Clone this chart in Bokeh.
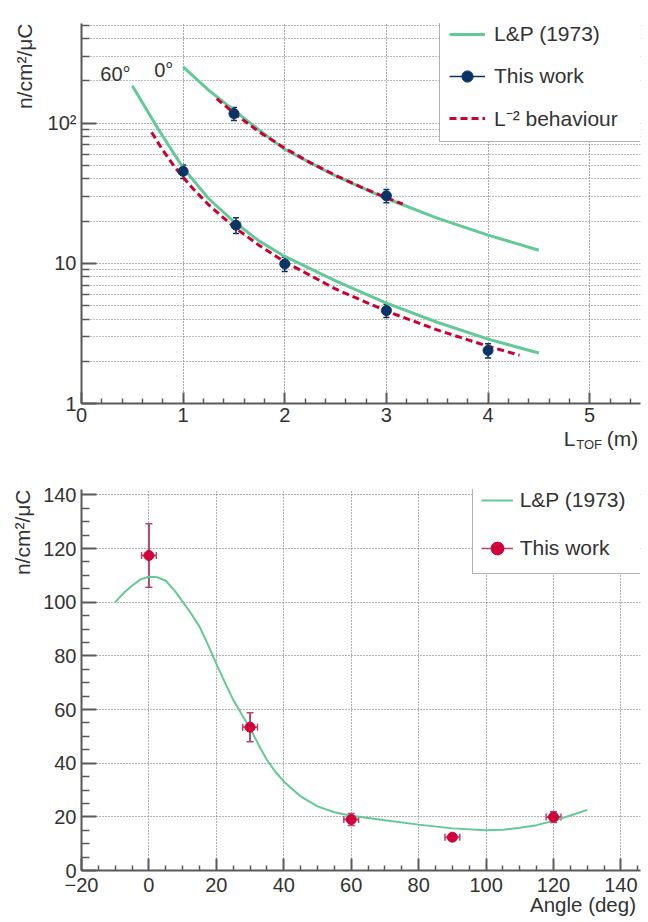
from bokeh.embed import file_html
from bokeh.layouts import column
from bokeh.models import (ColumnDataSource, FixedTicker, Label, Legend, LegendItem,
                          LinearAxis, Range1d, TeeHead, Title, Whisker)
from bokeh.plotting import figure
from bokeh.resources import INLINE

# ---------------- fluence vs. flight path (upper panel) ----------------
L_0deg = [1.5, 3.0]
flux_0deg = [117.0, 30.3]
flux_err_0deg = [12.5, 3.3]

L_60deg = [1.0, 1.52, 2.0, 3.0, 4.0]
flux_60deg = [45.3, 18.7, 9.9, 4.6, 2.39]
flux_err_60deg = [5.0, 2.4, 1.15, 0.5, 0.28]

lp_L_0deg = [1.0, 1.25, 1.5, 1.75, 2.0, 2.5, 3.0, 3.5, 4.0, 4.5]
lp_flux_0deg = [252, 172, 124, 89, 65, 42, 29, 21, 15.9, 12.4]

lp_L_60deg = [0.5, 0.75, 1.0, 1.25, 1.5, 1.75, 2.0, 2.5, 3.0, 3.5, 4.0, 4.5]
lp_flux_60deg = [185, 92, 48, 29, 19.8, 14.4, 11.2, 7.5, 5.2, 3.8, 2.88, 2.29]

sq_L_0deg = [1.33, 1.5, 1.75, 2.0, 2.25, 2.5, 2.75, 3.0, 3.16]
sq_flux_0deg = [149.8, 117.8, 86.5, 66.3, 52.3, 42.4, 35.0, 29.4, 26.5]

sq_L_60deg = [0.69, 0.8, 0.9, 1.0, 1.1, 1.25, 1.5, 1.75, 2.0, 2.5, 3.0, 3.5, 4.0, 4.31]
sq_flux_60deg = [86.1, 64.1, 50.6, 41.0, 33.9, 26.2, 18.2, 13.4, 10.25, 6.56, 4.56, 3.35, 2.56, 2.21]

L_ticks = [0, 1, 2, 3, 4, 5]
flux_ticks = [1, 10, 100]
flux_tick_labels = ["1", "10", "10\u00b2"]

# ---------------- angular distribution (lower panel) ----------------
angle = [0, 30, 60, 90, 120]
angle_err = [2.2, 2.2, 2.2, 2.2, 2.2]
flux_angle = [117.4, 53.4, 19.0, 12.4, 19.9]
flux_angle_err = [11.8, 5.4, 2.2, 1.0, 2.0]

lp_angle = [-10, -7.5, -5, -2.5, 0, 2.5, 5, 7.5, 10, 12.5, 15, 17.5, 20, 22.5, 25,
            27.5, 30, 32.5, 35, 37.5, 40, 45, 50, 55, 60, 70, 80, 90, 100, 105,
            110, 115, 120, 125, 130]
lp_flux_angle = [100.0, 103.4, 106.1, 108.5, 109.5, 109.3, 108.0, 104.5, 100.2, 95.8,
                 90.9, 84.2, 77.0, 70.2, 63.6, 58.2, 53.0, 46.9, 41.2, 36.8, 33.2,
                 27.6, 23.9, 21.7, 20.4, 18.7, 17.1, 15.7, 15.0, 15.2, 15.9, 16.9,
                 18.5, 20.5, 22.6]

angle_ticks = [-20, 0, 20, 40, 60, 80, 100, 120, 140]
angle_tick_labels = ["\u221220", "0", "20", "40", "60", "80", "100", "120", "140"]
flux_lin_ticks = [0, 20, 40, 60, 80, 100, 120, 140]

# ---------------- styling ----------------
FONT = "Liberation Sans"
TEXT = "#333333"
AXIS = "#5a5a5a"
GREEN = "#62C997"
RED_DASH = "#CC0033"
BLUE = "#0A3466"
RED_PT = "#D2003A"
RED_BAR = "#B4466E"


def style_axes(p, x_major_in, x_minor_in, y_major_in, y_minor_in, x_standoff):
    for ax in (p.xaxis[0], p.yaxis[0]):
        ax.axis_line_color = AXIS
        ax.axis_line_width = 2
        ax.major_tick_line_color = AXIS
        ax.minor_tick_line_color = AXIS
        ax.major_tick_line_width = 2
        ax.minor_tick_line_width = 1.5
        ax.major_tick_out = 0
        ax.minor_tick_out = 0
        ax.major_label_text_font = FONT
        ax.major_label_text_font_size = "20px"
        ax.major_label_text_color = TEXT
    p.xaxis[0].major_tick_in = x_major_in
    p.xaxis[0].minor_tick_in = x_minor_in
    p.yaxis[0].major_tick_in = y_major_in
    p.yaxis[0].minor_tick_in = y_minor_in
    p.xaxis[0].major_label_standoff = x_standoff
    p.yaxis[0].major_label_standoff = 5
    p.outline_line_color = None


def y_title(p, text, standoff):
    p.add_layout(Title(text=text, align="right", text_font=FONT, text_font_size="21px",
                       text_font_style="normal", text_color=TEXT, standoff=standoff), "left")


def title_axis(p, positions, texts, size, standoff):
    """A bare extra axis below the plot whose only job is to carry the x-axis title
    pieces as tick labels at the given x positions."""
    ax = LinearAxis(ticker=FixedTicker(ticks=positions, minor_ticks=[]),
                    major_label_overrides=dict(zip(positions, texts)),
                    major_label_text_font=FONT, major_label_text_font_size=size,
                    major_label_text_color=TEXT, major_label_standoff=standoff,
                    axis_line_color=None, major_tick_line_color=None,
                    minor_tick_line_color=None)
    p.add_layout(ax, "below")


def style_legend(leg, pad, spacing, glyph_w, item_h, label_w, standoff):
    leg.label_text_font = FONT
    leg.label_text_font_size = "21px"
    leg.label_text_color = TEXT
    leg.border_line_color = "#666666"
    leg.border_line_width = 1.5
    leg.background_fill_color = "white"
    leg.background_fill_alpha = 1.0
    leg.padding = pad
    leg.spacing = spacing
    leg.glyph_width = glyph_w
    leg.glyph_height = item_h
    leg.label_height = item_h
    leg.label_width = label_w
    leg.label_standoff = standoff
    leg.margin = 0


# ================= upper panel =================
p1 = figure(frame_width=559, frame_height=380,
            x_range=Range1d(0, 5.5), y_range=Range1d(1, 514), y_axis_type="log",
            min_border_left=81, min_border_right=8, min_border_top=23, min_border_bottom=57,
            output_backend="svg", toolbar_location=None)
style_axes(p1, 11, 5, 15, 8, 4)

x_ticker = FixedTicker(ticks=L_ticks,
                       minor_ticks=[round(0.2 * i, 1) for i in range(1, 28) if i % 5])
y_ticker = FixedTicker(ticks=flux_ticks,
                       minor_ticks=[m * 10 ** e for e in range(3) for m in range(2, 10)
                                    if m * 10 ** e <= 514])
p1.xaxis[0].ticker = x_ticker
p1.yaxis[0].ticker = y_ticker
p1.xgrid[0].ticker = x_ticker
p1.ygrid[0].ticker = y_ticker
p1.yaxis[0].major_label_overrides = dict(zip(flux_ticks, flux_tick_labels))

p1.xgrid.grid_line_color = "#555555"
p1.xgrid.grid_line_dash = "1 2"
p1.ygrid.grid_line_color = "#666666"
p1.ygrid.grid_line_dash = "1 2"
p1.ygrid.minor_grid_line_color = "#777777"
p1.ygrid.minor_grid_line_dash = "1 2"

r_lp0 = p1.line(lp_L_0deg, lp_flux_0deg, line_color=GREEN, line_width=3)
p1.line(lp_L_60deg, lp_flux_60deg, line_color=GREEN, line_width=3)
r_sq0 = p1.line(sq_L_0deg, sq_flux_0deg, line_color=RED_DASH, line_width=3, line_dash="7 4")
p1.line(sq_L_60deg, sq_flux_60deg, line_color=RED_DASH, line_width=3, line_dash="7 4")

for xs, ys, es in ((L_0deg, flux_0deg, flux_err_0deg), (L_60deg, flux_60deg, flux_err_60deg)):
    src = ColumnDataSource(dict(x=xs, lo=[y - e for y, e in zip(ys, es)],
                                hi=[y + e for y, e in zip(ys, es)]))
    p1.add_layout(Whisker(source=src, base="x", upper="hi", lower="lo", dimension="height",
                          line_color=BLUE, line_width=1.5,
                          upper_head=TeeHead(size=6, line_color=BLUE, line_width=1.5),
                          lower_head=TeeHead(size=6, line_color=BLUE, line_width=1.5)))

r_pts0 = p1.scatter(L_0deg, flux_0deg, size=10, color=BLUE)
p1.scatter(L_60deg, flux_60deg, size=10, color=BLUE)
# zero-length segments on the data points: only their legend key (a line) shows
r_key1 = p1.segment(x0=L_0deg, y0=flux_0deg, x1=L_0deg, y1=flux_0deg,
                    line_color=BLUE, line_width=1.5)

leg1 = Legend(items=[LegendItem(label="L&P (1973)", renderers=[r_lp0]),
                     LegendItem(label="This work", renderers=[r_key1, r_pts0]),
                     LegendItem(label="L\u207b\u00b2 behaviour", renderers=[r_sq0])],
              location=(358, 261))
style_legend(leg1, pad=9, spacing=14, glyph_w=36, item_h=28, label_w=137, standoff=9)
p1.add_layout(leg1)

p1.add_layout(Label(x=0.185, y=225, text="60\u00b0", text_font=FONT, text_font_size="20px",
                    text_color=TEXT, text_baseline="alphabetic"))
p1.add_layout(Label(x=0.715, y=240, text="0\u00b0", text_font=FONT, text_font_size="20px",
                    text_color=TEXT, text_baseline="alphabetic"))

y_title(p1, "n/cm\u00b2/\u03bcC", 17)
# x title "L_TOF (m)": subscript row first, then the full-size pieces pulled up beside it
title_axis(p1, [4.995], ["TOF"], "13px", 6)
title_axis(p1, [4.803, 5.322], ["L", "(m)"], "21px", -34)

# ================= lower panel =================
p2 = figure(frame_width=559, frame_height=381,
            x_range=Range1d(-20, 145.8), y_range=Range1d(0, 142),
            min_border_left=81, min_border_right=8, min_border_top=29, min_border_bottom=52,
            output_backend="svg", toolbar_location=None)
style_axes(p2, 12, 5, 15, 8, 7)

ax_ticker = FixedTicker(ticks=angle_ticks,
                        minor_ticks=[a for a in range(-20, 146, 5) if a % 20])
fl_ticker = FixedTicker(ticks=flux_lin_ticks,
                        minor_ticks=[f for f in range(0, 142, 5) if f % 20])
p2.xaxis[0].ticker = ax_ticker
p2.yaxis[0].ticker = fl_ticker
p2.xgrid[0].ticker = ax_ticker
p2.ygrid[0].ticker = fl_ticker
p2.xaxis[0].major_label_overrides = dict(zip(angle_ticks, angle_tick_labels))

p2.xgrid.grid_line_color = "#666666"
p2.xgrid.grid_line_dash = "1 2"
p2.ygrid.grid_line_color = "#666666"
p2.ygrid.grid_line_dash = "1 2"

r_lp_ang = p2.line(lp_angle, lp_flux_angle, line_color=GREEN, line_width=2)

ang_src = ColumnDataSource(dict(
    x=angle, y=flux_angle,
    ylo=[f - e for f, e in zip(flux_angle, flux_angle_err)],
    yhi=[f + e for f, e in zip(flux_angle, flux_angle_err)],
    xlo=[a - e for a, e in zip(angle, angle_err)],
    xhi=[a + e for a, e in zip(angle, angle_err)]))
p2.add_layout(Whisker(source=ang_src, base="x", upper="yhi", lower="ylo", dimension="height",
                      line_color=RED_BAR, line_width=2,
                      upper_head=TeeHead(size=7, line_color=RED_BAR, line_width=1.5),
                      lower_head=TeeHead(size=7, line_color=RED_BAR, line_width=1.5)))
p2.add_layout(Whisker(source=ang_src, base="y", upper="xhi", lower="xlo", dimension="width",
                      line_color=RED_BAR, line_width=2,
                      upper_head=TeeHead(size=7, line_color=RED_BAR, line_width=1.5),
                      lower_head=TeeHead(size=7, line_color=RED_BAR, line_width=1.5)))
r_ang_pts = p2.scatter("x", "y", source=ang_src, size=10, color=RED_PT)
r_key2 = p2.segment(x0="x", y0="y", x1="x", y1="y", source=ang_src,
                    line_color=RED_BAR, line_width=1.5)

leg2 = Legend(items=[LegendItem(label="L&P (1973)", renderers=[r_lp_ang]),
                     LegendItem(label="This work", renderers=[r_key2, r_ang_pts])],
              location=(390.7, 296))
style_legend(leg2, pad=8, spacing=14, glyph_w=32, item_h=34, label_w=112, standoff=7)
p2.add_layout(leg2)

y_title(p2, "n/cm\u00b2/\u03bcC", 14)
title_axis(p2, [128.75], ["Angle (deg)"], "20.5px", -8)

layout = column(p1, p2)
open("out.html", "w").write(file_html(layout, INLINE))
